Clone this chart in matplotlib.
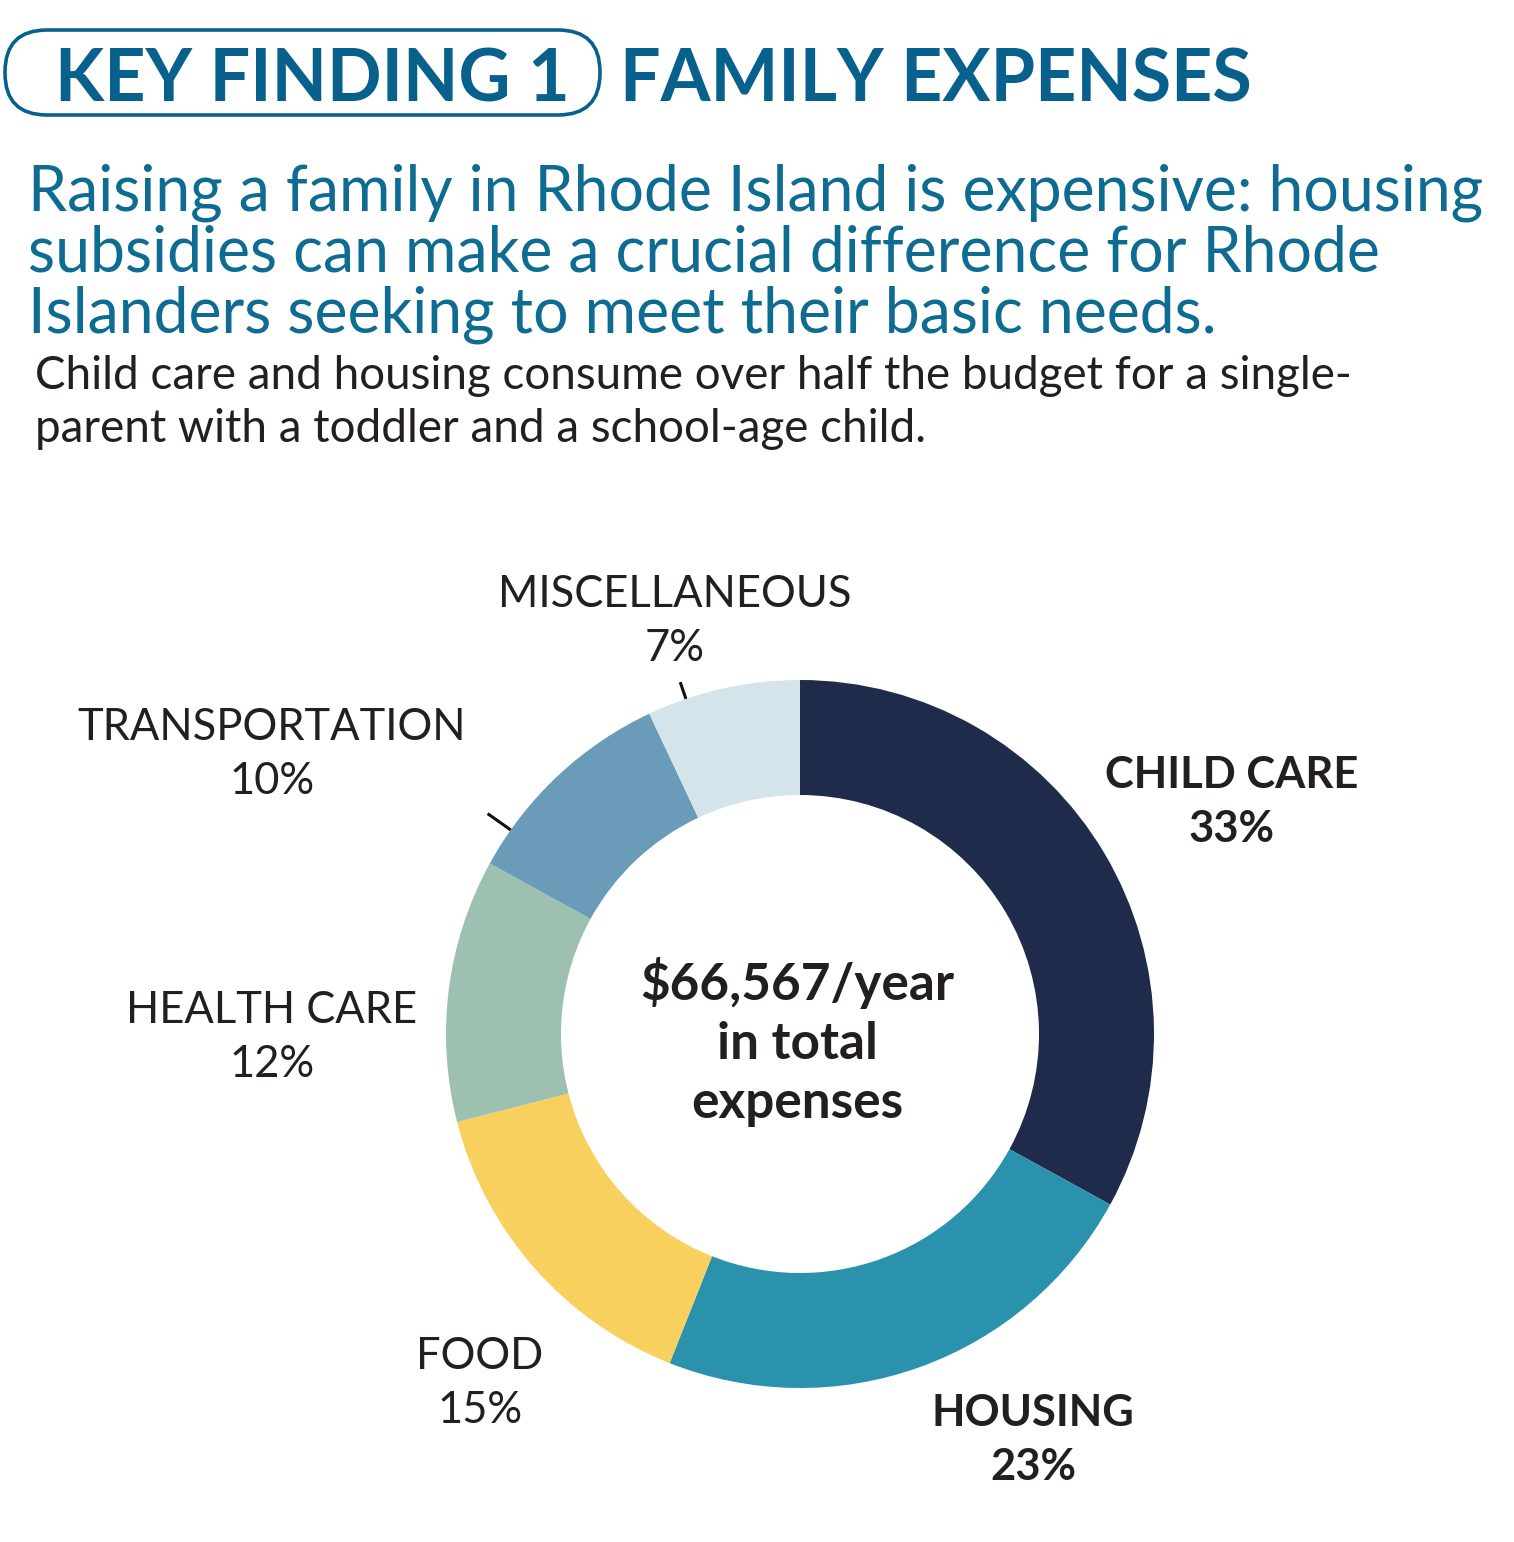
import matplotlib
matplotlib.use("Agg")
import matplotlib.pyplot as plt
from matplotlib.patches import FancyBboxPatch
import numpy as np

# ---- data ----
categories = ["CHILD CARE", "HOUSING", "FOOD", "HEALTH CARE", "TRANSPORTATION", "MISCELLANEOUS"]
shares = [33, 23, 15, 12, 10, 7]
colors = ["#1E2B4B", "#2A92AD", "#F8D05E", "#9DC0B0", "#6A9CBA", "#D4E4EB"]
bold_labels = [True, True, False, False, False, False]
center_lines = ["$66,567/year", "in total", "expenses"]
title_box = "KEY FINDING 1"
title_rest = "FAMILY EXPENSES"
subtitle_lines = ["Raising a family in Rhode Island is expensive: housing",
                  "subsidies can make a crucial difference for Rhode",
                  "Islanders seeking to meet their basic needs."]
body_lines = ["Child care and housing consume over half the budget for a single-",
              "parent with a toddler and a school-age child."]

# ---- layout (pixels) ----
W, H = 1514, 1542
FONT = "Lato"
TITLE_C = "#08618C"
SUB_C = "#0E6B91"
TXT_C = "#231F20"

fig = plt.figure(figsize=(W / 100, H / 100), dpi=100)
fig.patch.set_facecolor("white")
renderer = fig.canvas.get_renderer()

# overlay axes in pixel units
ov = fig.add_axes([0, 0, 1, 1])
ov.set_xlim(0, W)
ov.set_ylim(H, 0)
ov.axis("off")


def fit_size(s, target_w, weight="normal", base=30):
    t = ov.text(0, 0, s, fontsize=base, fontweight=weight, family=FONT)
    w = t.get_window_extent(renderer).width
    t.remove()
    return base * target_w / w


# donut axes
cx, cy, R, r_in = 800, 1034, 354, 239
pa = fig.add_axes([(cx - R) / W, (H - cy - R) / H, 2 * R / W, 2 * R / H])
pa.pie(shares, colors=colors, startangle=90, counterclock=False, radius=1.0,
       wedgeprops=dict(width=1 - r_in / R, edgecolor="none", linewidth=0))
pa.set_xlim(-1, 1)
pa.set_ylim(-1, 1)
pa.set_aspect("equal")
pa.axis("off")

# small leader ticks (angle deg, r0, r1)
ticks = [(108.8, 1.0, 1.05), (144.8, 1.0, 1.08)]
for ang, r0, r1 in ticks:
    a = np.deg2rad(ang)
    pa.plot([r0 * np.cos(a), r1 * np.cos(a)], [r0 * np.sin(a), r1 * np.sin(a)],
            color="#111111", lw=2.2, solid_capstyle="butt", clip_on=False)

# title
box = FancyBboxPatch((5, 30), 595, 85,
                     boxstyle="round,pad=0,rounding_size=42",
                     fc="white", ec=TITLE_C, lw=2.6)
ov.add_patch(box)
fs_t = fit_size(title_rest, 632, "bold")
ov.text(312, 102, title_box, fontsize=fs_t, fontweight="bold", color=TITLE_C,
        family=FONT, va="baseline", ha="center")
ov.text(620, 102, title_rest, fontsize=fs_t, fontweight="bold", color=TITLE_C,
        family=FONT, va="baseline", ha="left")

fs_s = fit_size(subtitle_lines[0], 1454)
for i, line in enumerate(subtitle_lines):
    ov.text(28, 211 + 61 * i, line, fontsize=fs_s, color=SUB_C, family=FONT,
            va="baseline", ha="left")
fs_b = fit_size(body_lines[0], 1315)
for i, line in enumerate(body_lines):
    ov.text(35, 389 + 53 * i, line, fontsize=fs_b, color=TXT_C, family=FONT,
            va="baseline", ha="left")

# category labels: (x center, baseline of name)
fs_l = fit_size("TRANSPORTATION", 388)
label_pos = [(1232, 788), (1033, 1426), (480, 1369), (272, 1023), (272, 740), (675, 607)]
for cat, val, b, (x, y) in zip(categories, shares, bold_labels, label_pos):
    w = "bold" if b else "normal"
    ov.text(x, y, cat, fontsize=fs_l, fontweight=w, color=TXT_C, family=FONT,
            ha="center", va="baseline")
    ov.text(x, y + 54, f"{val}%", fontsize=fs_l, fontweight=w, color=TXT_C, family=FONT,
            ha="center", va="baseline")

fs_c = fit_size(center_lines[0], 313, "bold")
for i, line in enumerate(center_lines):
    ov.text(797, 1000 + 59 * i, line, fontsize=fs_c, fontweight="bold", color=TXT_C,
            family=FONT, ha="center", va="baseline")

fig.savefig("out.png", dpi=100, facecolor="white")
